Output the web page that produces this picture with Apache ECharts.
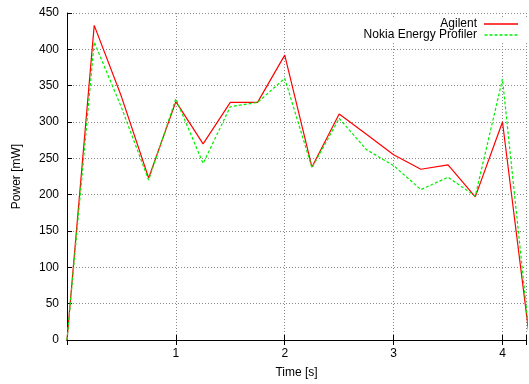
<!DOCTYPE html>
<html>
<head>
<meta charset="utf-8">
<script src="https://cdn.jsdelivr.net/npm/echarts@6/dist/echarts.min.js"></script>
<style>
html,body{margin:0;padding:0;background:#fff;overflow:hidden;}
#c{width:529px;height:384px;}
</style>
</head>
<body>
<div id="c"></div>
<script>
const times = [0, 0.25, 0.5, 0.75, 1, 1.25, 1.5, 1.75, 2, 2.25, 2.5, 2.75, 3, 3.25, 3.5, 3.75, 4, 4.25];
const agilent = [0, 433, 335, 223, 328, 270, 327, 327, 392, 238, 311, 283, 255, 235, 241, 197, 300, 0];
const nokia = [0, 410, 320, 220, 332, 243, 321, 327, 360, 237, 305, 262, 240, 207, 224, 198, 359, 0];
const seriesNames = ['Agilent', 'Nokia Energy Profiler'];
const xAxisName = 'Time [s]';
const yAxisName = 'Power [mW]';

const font = 'Liberation Sans, Arial, Helvetica, sans-serif';
const chart = echarts.init(document.getElementById('c'), null, {renderer: 'canvas', width: 529, height: 384});
const pair = (arr) => times.map((t, i) => [t, arr[i]]);

// legend line icons (solid and dashed)
const solidIcon = 'path://M0,0L34,0L34,1.3L0,1.3Z';
let dashParts = [];
for (let x = 0; x < 34; x += 5) dashParts.push('M' + x + ',0L' + (x + 3) + ',0L' + (x + 3) + ',1.3L' + x + ',1.3Z');
const dashIcon = 'path://' + dashParts.join('');

chart.setOption({
  animation: false,
  backgroundColor: '#fff',
  textStyle: {fontFamily: font},
  grid: {left: 67, top: 13, right: 0, bottom: 39, show: false, containLabel: false},
  legend: {
    orient: 'vertical', align: 'right', right: 0, top: 18, padding: [0, 11, 1, 10],
    backgroundColor: '#fff', z: 10,
    itemWidth: 34, itemHeight: 1.3, itemGap: -1,
    textStyle: {fontSize: 12, color: '#000', fontFamily: font, padding: [0, 2, 0, 0]},
    data: [
      {name: seriesNames[0], icon: solidIcon, itemStyle: {color: '#ff0000'}},
      {name: seriesNames[1], icon: dashIcon, itemStyle: {color: '#00ee00'}}
    ]
  },
  xAxis: [{
    type: 'value', min: 0, max: 4.216, interval: 1,
    name: xAxisName, nameLocation: 'middle', nameGap: 27,
    nameTextStyle: {fontSize: 12, color: '#000', fontFamily: font},
    axisLine: {show: true, onZero: false, lineStyle: {color: '#000', width: 1}},
    axisTick: {show: true, inside: true, length: 5, lineStyle: {color: '#000'}},
    axisLabel: {fontSize: 12, color: '#000', margin: 8, fontFamily: font,
      formatter: v => (v === 0 || v > 4) ? '' : String(v)},
    splitLine: {show: true, lineStyle: {color: '#888', type: [1, 2], width: 1}}
  }, {
    type: 'value', position: 'top', min: 0, max: 4.216, interval: 1,
    axisLine: {show: true, lineStyle: {color: '#000'}},
    axisTick: {show: true, inside: true, length: 5, lineStyle: {color: '#000'}},
    axisLabel: {show: false},
    splitLine: {show: false}
  }],
  yAxis: {
    type: 'value', min: 0, max: 450, interval: 50,
    name: yAxisName, nameLocation: 'middle', nameGap: 44, nameRotate: 90,
    nameTextStyle: {fontSize: 12, color: '#000', fontFamily: font},
    axisLine: {show: true, lineStyle: {color: '#000', width: 1}},
    axisTick: {show: true, inside: true, length: 5, lineStyle: {color: '#000'}},
    axisLabel: {fontSize: 12, color: '#000', margin: 8, fontFamily: font},
    splitLine: {show: true, lineStyle: {color: '#888', type: [1, 2], width: 1}}
  },
  series: [{
    name: seriesNames[0], type: 'line', data: pair(agilent), symbol: 'none', clip: true,
    itemStyle: {color: '#ff0000'},
    lineStyle: {color: '#ff0000', width: 1.2, type: 'solid'}, z: 3
  }, {
    name: seriesNames[1], type: 'line', data: pair(nokia), symbol: 'none', clip: true,
    itemStyle: {color: '#00ee00'},
    lineStyle: {color: '#00ee00', width: 1.2, type: [3, 2]}, z: 4
  }]
});
</script>
</body>
</html>
